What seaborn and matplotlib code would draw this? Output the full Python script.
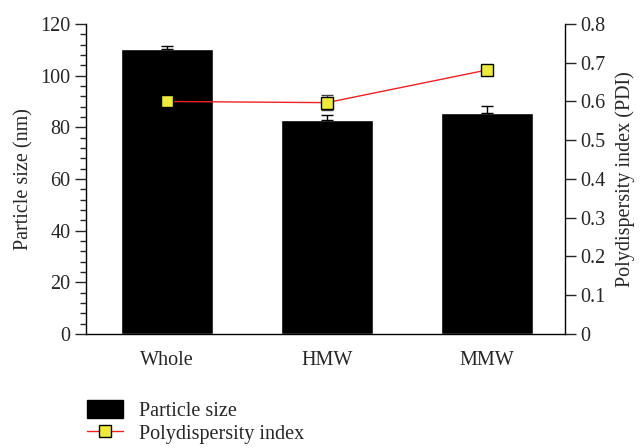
import matplotlib
matplotlib.use("Agg")
import matplotlib.pyplot as plt
from matplotlib.ticker import MultipleLocator
from matplotlib.lines import Line2D
from matplotlib.patches import Patch
import seaborn as sns
import pandas as pd

sns.set_style("white")
plt.rcParams["font.family"] = ["Liberation Serif", "DejaVu Serif"]

# data
groups = ["Whole", "HMW", "MMW"]
size_nm = [110.2, 82.8, 85.5]
size_err = [1.3, 2.0, 2.7]
pdi = [0.600, 0.597, 0.681]
pdi_err = [0.0, 0.02, 0.008]

df = pd.DataFrame({"group": groups, "size": size_nm, "pdi": pdi})

fs = 14.5
fig = plt.figure(figsize=(6.43, 4.48), dpi=100)
ax = fig.add_axes([0.1337, 0.2545, 0.745, 0.692])

sns.barplot(data=df, x="group", y="size", color="black", width=0.575,
            saturation=1, ax=ax, errorbar=None, zorder=2)
ax.errorbar(range(len(groups)), size_nm, yerr=[[0] * 3, size_err], fmt="none",
            ecolor="black", elinewidth=1, capsize=4, capthick=1, zorder=3)

ax.set_xlim(-0.506, 2.49)
ax.set_ylim(0, 120)
ax.yaxis.set_major_locator(MultipleLocator(20))
ax.yaxis.set_minor_locator(MultipleLocator(4))
ax.tick_params(axis="y", which="major", direction="out", length=8, width=1,
               left=True, labelsize=fs, pad=3)
ax.tick_params(axis="y", which="minor", direction="out", length=4.5, width=1, left=True)
ax.tick_params(axis="x", bottom=False, labelsize=fs, pad=9)
ax.set_xlabel("")
ax.set_ylabel("Particle size (nm)", fontsize=fs, labelpad=5)
for s in ["top", "right"]:
    ax.spines[s].set_visible(False)
for s in ["left", "bottom"]:
    ax.spines[s].set_color("black")
    ax.spines[s].set_linewidth(1)

ax2 = ax.twinx()
ax2.errorbar(range(len(groups)), pdi, yerr=pdi_err, fmt="none", ecolor="#444444",
             elinewidth=1, capsize=4, capthick=1, zorder=3)
sns.lineplot(x=list(range(len(groups))), y=pdi, ax=ax2, color="#ee2222", lw=1,
             marker="s", markersize=8.5, markerfacecolor="#eeea3a",
             markeredgecolor="black", markeredgewidth=1, zorder=4)
ax2.set_ylim(0, 0.8)
ax2.set_yticks([i / 10 for i in range(9)])
ax2.set_yticklabels(["0"] + ["%.1f" % (i / 10) for i in range(1, 9)])
ax2.tick_params(axis="y", direction="out", length=8, width=1, right=True,
                labelsize=fs, pad=3)
ax2.set_ylabel("Polydispersity index (PDI)", fontsize=fs, labelpad=7)
for s in ["top", "left", "bottom"]:
    ax2.spines[s].set_visible(False)
ax2.spines["right"].set_color("black")
ax2.spines["right"].set_linewidth(1)
ax.set_xlim(-0.506, 2.49)

handles = [
    Patch(facecolor="black", edgecolor="black"),
    Line2D([0], [0], color="#ee2222", lw=1, marker="s", markersize=8.5,
           markerfacecolor="#eeea3a", markeredgecolor="black"),
]
fig.legend(handles, ["Particle size", "Polydispersity index"], loc="upper left",
           bbox_to_anchor=(0.135, 0.108), frameon=False, fontsize=fs,
           handlelength=1.8, handleheight=1.0, labelspacing=0.12, borderpad=0,
           borderaxespad=0, handletextpad=0.8)

fig.savefig("out.png", dpi=100)
